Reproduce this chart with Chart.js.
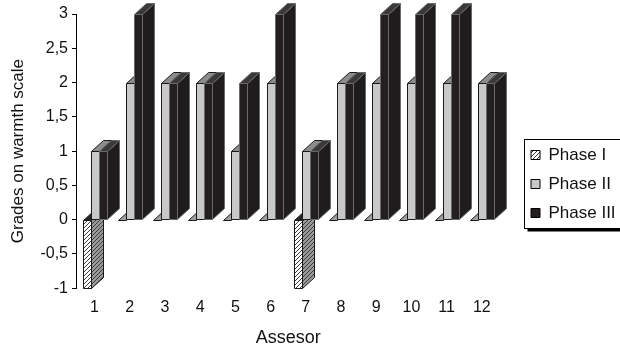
<!DOCTYPE html>
<html>
<head>
<meta charset="utf-8">
<script src="https://cdn.jsdelivr.net/npm/chart.js@4.4.1/dist/chart.umd.min.js"></script>
<style>
  html, body { margin: 0; padding: 0; background: #fff; }
  #wrap { width: 620px; height: 351px; }
</style>
</head>
<body>
<div id="wrap"><canvas id="c" width="620" height="351"></canvas></div>
<script>
// Assessors on the x axis and the grade each one gave in every phase
const assessors = ['1', '2', '3', '4', '5', '6', '7', '8', '9', '10', '11', '12'];
const phaseI   = [-1, 0, 0, 0, 0, 0, -1, 0, 0, 0, 0, 0];
const phaseII  = [1, 2, 2, 2, 1, 2, 1, 2, 2, 2, 2, 2];
const phaseIII = [1, 3, 2, 2, 2, 3, 1, 2, 3, 3, 3, 2];
const seriesNames = ['Phase I', 'Phase II', 'Phase III'];

// Warmth scale range and tick step
const yMin = -1, yMax = 3, yStep = 0.5;

const FONT = '"Liberation Sans", Arial, Helvetica, sans-serif';
Chart.defaults.font.family = FONT;
Chart.defaults.font.size = 16;
Chart.defaults.color = '#111';

// Diagonal hatch fill
function hatch(bg, fg) {
  const c = document.createElement('canvas');
  c.width = 4; c.height = 4;
  const g = c.getContext('2d');
  g.fillStyle = bg;
  g.fillRect(0, 0, 4, 4);
  g.strokeStyle = fg;
  g.lineWidth = 1;
  g.beginPath();
  g.moveTo(0, 4); g.lineTo(4, 0);
  g.moveTo(-1, 1); g.lineTo(1, -1);
  g.moveTo(3, 5); g.lineTo(5, 3);
  g.stroke();
  return g.createPattern(c, 'repeat');
}
const hatchFront = hatch('#ffffff', '#3a3a3a');
const hatchSide = hatch('#9a9a9a', '#3a3a3a');

// Extrusion of the pseudo-3D columns
const DX = 12, DY = 11;
const faces = [
  { front: hatchFront, top: '#a0a0a0', topNeg: '#262626', side: hatchSide, edge: '#1a1a1a' },
  { front: '#c8c8c8', top: '#8c8c8c', topNeg: '#8c8c8c', side: '#9e9e9e', edge: '#1a1a1a' },
  { front: '#231f20', top: '#3a3839', topNeg: '#3a3839', side: '#1f1c1d', edge: '#6a6a6a' }
];

function poly(ctx, pts, fill, edge) {
  ctx.beginPath();
  ctx.moveTo(pts[0][0], pts[0][1]);
  for (let k = 1; k < pts.length; k++) ctx.lineTo(pts[k][0], pts[k][1]);
  ctx.closePath();
  ctx.fillStyle = fill;
  ctx.fill();
  ctx.strokeStyle = edge;
  ctx.lineWidth = 1;
  ctx.stroke();
}

// Draws each column as a box (front, top and right face), category by category
const columns3d = {
  id: 'columns3d',
  beforeDatasetsDraw(chart) {
    const ctx = chart.ctx;
    const metas = chart.getSortedVisibleDatasetMetas();
    const count = chart.data.labels.length;
    ctx.save();
    for (let i = 0; i < count; i++) {
      for (const meta of metas) {
        const el = meta.data[i];
        if (!el) continue;
        const st = faces[meta.index];
        const value = chart.data.datasets[meta.index].data[i];
        const p = el.getProps(['x', 'y', 'base', 'width'], true);
        const l = Math.round(p.x - p.width / 2) + 0.5;
        const r = Math.round(p.x + p.width / 2) + 0.5;
        const t = Math.round(Math.min(p.y, p.base)) + 0.5;
        const b = Math.round(Math.max(p.y, p.base)) + 0.5;
        if (b > t) {
          poly(ctx, [[r, t], [r + DX, t - DY], [r + DX, b - DY], [r, b]], st.side, st.edge);
        }
        poly(ctx, [[l, t], [r, t], [r + DX, t - DY], [l + DX, t - DY]], value < 0 ? st.topNeg : st.top, st.edge);
        if (b > t) {
          poly(ctx, [[l, t], [r, t], [r, b], [l, b]], st.front, st.edge);
        }
      }
    }
    ctx.restore();
    return false;
  }
};

// Places the legend and frames it with a drop shadow
const LEGEND_FONT = 17;
const legendFrame = {
  id: 'legendFrame',
  afterLayout(chart) {
    const lg = chart.legend;
    const w = lg.width;
    lg.left = 531 - lg.options.labels.padding;
    lg.right = lg.left + w;
    lg.top = 134.5;
  },
  afterDraw(chart) {
    const lg = chart.legend;
    const pad = lg.options.labels.padding;
    const rows = lg.legendItems.length;
    const first = lg.top + pad;
    const fl = 524.5;
    const ft = Math.round(first - 7.5) + 0.5;
    const fr = chart.width + 2;
    const fb = Math.round(first + rows * LEGEND_FONT + (rows - 1) * pad + 6.5) + 0.5;
    const ctx = chart.ctx;
    ctx.save();
    ctx.fillStyle = '#000';
    ctx.fillRect(fl + 3, fb, fr - fl, 3);
    ctx.strokeStyle = '#000';
    ctx.lineWidth = 1;
    ctx.strokeRect(fl, ft, fr - fl, fb - ft);
    ctx.restore();
  }
};

const seriesData = [phaseI, phaseII, phaseIII];
const datasets = seriesData.map((d, k) => ({
  label: seriesNames[k],
  data: d,
  backgroundColor: faces[k].front,
  borderColor: '#000',
  borderWidth: 1,
  categoryPercentage: 0.68,
  barPercentage: 1.0
}));

new Chart(document.getElementById('c'), {
  type: 'bar',
  data: { labels: assessors, datasets },
  plugins: [columns3d, legendFrame],
  options: {
    responsive: false,
    devicePixelRatio: 1,
    animation: false,
    layout: { padding: { left: 0, right: 14, top: 14, bottom: 0 } },
    plugins: {
      tooltip: { enabled: false },
      legend: {
        position: 'right',
        align: 'start',
        labels: {
          boxWidth: 9,
          boxHeight: 9,
          padding: 12,
          color: '#111',
          font: { size: LEGEND_FONT, family: FONT }
        }
      }
    },
    scales: {
      x: {
        grid: { display: false, drawTicks: false },
        border: { display: false },
        ticks: { padding: 10, color: '#111', font: { size: 16 } },
        title: { display: true, text: 'Assesor', color: '#111', font: { size: 18 }, padding: { top: 0, bottom: 2 } }
      },
      y: {
        min: yMin,
        max: yMax,
        ticks: {
          stepSize: yStep,
          padding: 4,
          color: '#111',
          font: { size: 16 },
          callback: v => String(v).replace('.', ',')
        },
        grid: { display: true, drawOnChartArea: false, drawTicks: true, tickLength: 5, color: '#000' },
        border: { display: true, color: '#000', width: 1 },
        title: { display: true, text: 'Grades on warmth scale', color: '#111', font: { size: 17 }, padding: { top: 8, bottom: 8 } }
      }
    }
  }
});
</script>
</body>
</html>
